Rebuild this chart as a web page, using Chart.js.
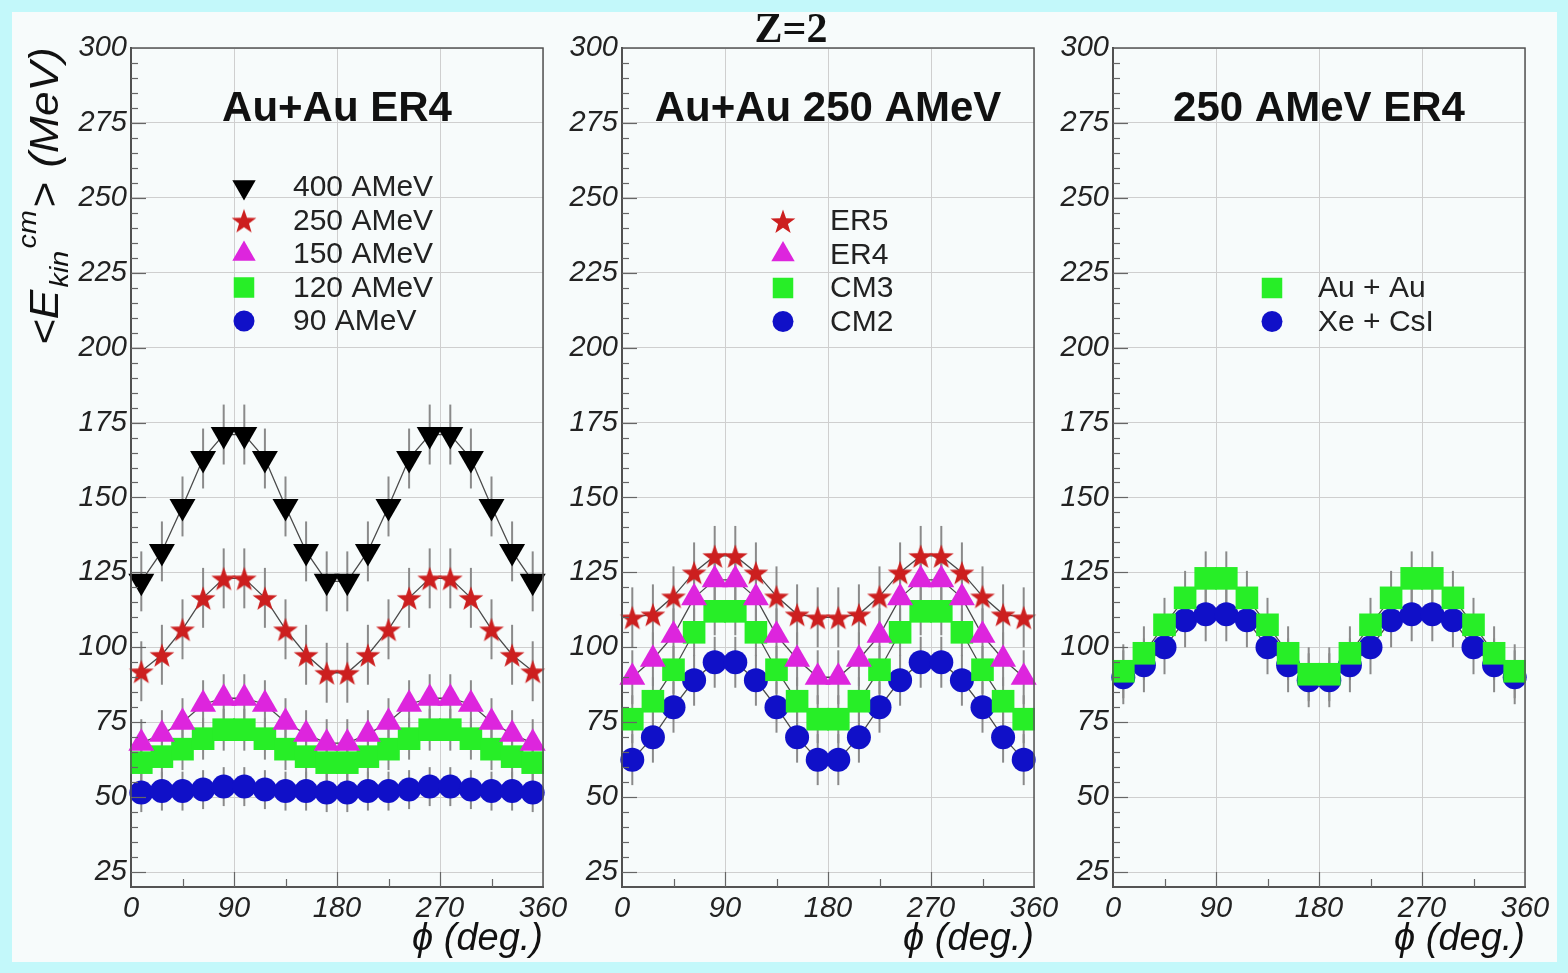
<!DOCTYPE html>
<html>
<head>
<meta charset="utf-8">
<title>Z=2</title>
<script src="https://cdn.jsdelivr.net/npm/chart.js@4.4.1/dist/chart.umd.min.js"></script>
<style>
    html, body { margin: 0; padding: 0; }
    body { width: 1568px; height: 973px; background: #c3f8fa; position: relative; overflow: hidden; }
    #sheet { position: absolute; left: 12px; top: 12px; width: 1545px; height: 950px; background: #f7fbfb; }
    canvas { position: absolute; left: 0; top: 0; }
</style>
</head>
<body>
<div id="sheet"></div>
<canvas id="panel1" width="1568" height="973"></canvas>
<canvas id="panel2" width="1568" height="973"></canvas>
<canvas id="panel3" width="1568" height="973"></canvas>
<script>
// bin centres (deg.) and axis ticks
var phi = [9, 27, 45, 63, 81, 99, 117, 135, 153, 171, 189, 207, 225, 243, 261, 279, 297, 315, 333, 351];
var xTicks = [0, 90, 180, 270, 360];
var yTicks = [25, 50, 75, 100, 125, 150, 175, 200, 225, 250, 275, 300];

// panel 1 : Au+Au ER4, beam energies
var e400 = [122, 132, 147, 163, 171, 171, 163, 147, 132, 122, 122, 132, 147, 163, 171, 171, 163, 147, 132, 122];
var e400Err = [10, 10, 10, 10, 10, 10, 10, 10, 10, 10, 10, 10, 10, 10, 10, 10, 10, 10, 10, 10];
var e250 = [92, 97.5, 106, 116.5, 123, 123, 116.5, 106, 97.5, 91.5, 91.5, 97.5, 106, 116.5, 123, 123, 116.5, 106, 97.5, 92];
var e250Err = [10, 10, 10, 10, 10, 10, 10, 10, 10, 10, 10, 10, 10, 10, 10, 10, 10, 10, 10, 10];
var e150 = [68, 71, 75, 81, 83, 83, 81, 75, 71, 68, 68, 71, 75, 81, 83, 83, 81, 75, 71, 68];
var e150Err = [8, 8, 8, 8, 8, 8, 8, 8, 8, 8, 8, 8, 8, 8, 8, 8, 8, 8, 8, 8];
var e120 = [61.5, 63.5, 66, 69.5, 72.5, 72.5, 69.5, 66, 63.5, 61.5, 61.5, 63.5, 66, 69.5, 72.5, 72.5, 69.5, 66, 63.5, 61.5];
var e120Err = [7, 7, 7, 7, 7, 7, 7, 7, 7, 7, 7, 7, 7, 7, 7, 7, 7, 7, 7, 7];
var e90 = [51.5, 52, 52, 52.5, 53.5, 53.5, 52.5, 52, 52, 51.5, 51.5, 52, 52, 52.5, 53.5, 53.5, 52.5, 52, 52, 51.5];
var e90Err = [6.5, 6.5, 6.5, 6.5, 6.5, 6.5, 6.5, 6.5, 6.5, 6.5, 6.5, 6.5, 6.5, 6.5, 6.5, 6.5, 6.5, 6.5, 6.5, 6.5];

// panel 2 : Au+Au 250 AMeV, detector setups
var er5 = [110, 111, 117, 125, 130.5, 130.5, 125, 117, 111, 110, 110, 111, 117, 125, 130.5, 130.5, 125, 117, 111, 110];
var er5Err = [10, 10, 10, 10, 10, 10, 10, 10, 10, 10, 10, 10, 10, 10, 10, 10, 10, 10, 10, 10];
var er4 = [90, 96, 104, 116.5, 122.5, 122.5, 116.5, 104, 96, 90, 90, 96, 104, 116.5, 122.5, 122.5, 116.5, 104, 96, 90];
var er4Err = [9, 9, 9, 9, 9, 9, 9, 9, 9, 9, 9, 9, 9, 9, 9, 9, 9, 9, 9, 9];
var cm3 = [76, 82, 92.5, 105, 112, 112, 105, 92.5, 82, 76, 76, 82, 92.5, 105, 112, 112, 105, 92.5, 82, 76];
var cm3Err = [8, 8, 8, 8, 8, 8, 8, 8, 8, 8, 8, 8, 8, 8, 8, 8, 8, 8, 8, 8];
var cm2 = [62.5, 70, 80, 89, 95, 95, 89, 80, 70, 62.5, 62.5, 70, 80, 89, 95, 95, 89, 80, 70, 62.5];
var cm2Err = [8.5, 8.5, 8.5, 8.5, 8.5, 8.5, 8.5, 8.5, 8.5, 8.5, 8.5, 8.5, 8.5, 8.5, 8.5, 8.5, 8.5, 8.5, 8.5, 8.5];

// panel 3 : 250 AMeV ER4, systems
var auau = [92, 98, 107.5, 116.5, 123, 123, 116.5, 107.5, 98, 91, 91, 98, 107.5, 116.5, 123, 123, 116.5, 107.5, 98, 92];
var auauErr = [9, 9, 9, 9, 9, 9, 9, 9, 9, 9, 9, 9, 9, 9, 9, 9, 9, 9, 9, 9];
var xecsi = [90, 94, 100, 109, 111, 111, 109, 100, 94, 89, 89, 94, 100, 109, 111, 111, 109, 100, 94, 90];
var xecsiErr = [9, 9, 9, 9, 9, 9, 9, 9, 9, 9, 9, 9, 9, 9, 9, 9, 9, 9, 9, 9];

var BLACK = '#000000', RED = '#cc1f1f', MAGENTA = '#dd25dd', GREEN = '#27ee27', BLUE = '#1010c8';
var FONT = '"Liberation Sans", Arial, Helvetica, sans-serif';

// filled five point star, Chart.js has no filled star
function makeStar(color, size) {
    var c = document.createElement('canvas');
    c.width = size;
    c.height = size;
    var g = c.getContext('2d');
    g.beginPath();
    for (var i = 0; i < 10; i++) {
        var r = i % 2 === 0 ? size / 2 : size / 5;
        var a = -Math.PI / 2 + i * Math.PI / 5;
        g.lineTo(size / 2 + r * Math.cos(a), size / 2 + 1.5 + r * Math.sin(a));
    }
    g.closePath();
    g.fillStyle = color;
    g.fill();
    return c;
}
var redStar = makeStar(RED, 26);

function series(label, vals, errs, color, style, radius, rotation) {
    return {
        label: label,
        data: phi.map(function(p, i) { return { x: p, y: vals[i] }; }),
        err: errs,
        pointStyle: style,
        pointRadius: radius,
        pointHoverRadius: radius,
        pointRotation: rotation || 0,
        pointBackgroundColor: color,
        pointBorderWidth: 0,
        borderColor: '#4a4a4a',
        borderWidth: 1.3,
        showLine: true,
        fill: false,
        clip: false
    };
}

function drawYTitle(ctx) {
    var parts = [
        { t: '<E', size: 40, dy: 0 },
        { t: 'kin', size: 26, dy: 10 },
        { t: 'cm', size: 26, dy: -22 },
        { t: '>', size: 40, dy: 0 },
        { t: ' (MeV)', size: 40, dy: 0 }
    ];
    ctx.save();
    var total = 0;
    parts.forEach(function(p) {
        ctx.font = 'italic ' + p.size + 'px ' + FONT;
        p.w = ctx.measureText(p.t).width + 2;
        total += p.w;
    });
    ctx.translate(58, 45);
    ctx.rotate(-Math.PI / 2);
    ctx.scale(300 / total, 1);
    ctx.fillStyle = '#111';
    ctx.textBaseline = 'alphabetic';
    var x = -total;
    parts.forEach(function(p) {
        ctx.font = 'italic ' + p.size + 'px ' + FONT;
        ctx.fillText(p.t, x, p.dy);
        x += p.w;
    });
    ctx.restore();
}

function decor(title, legend, extra) {
    return {
        id: 'decor',
        beforeDatasetsDraw: function(chart) {
            // error bars
            var ctx = chart.ctx, xs = chart.scales.x, ys = chart.scales.y;
            ctx.save();
            ctx.strokeStyle = '#8a8a8a';
            ctx.lineWidth = 2;
            chart.data.datasets.forEach(function(ds) {
                ds.data.forEach(function(pt, i) {
                    var px = xs.getPixelForValue(pt.x);
                    ctx.beginPath();
                    ctx.moveTo(px, ys.getPixelForValue(pt.y + ds.err[i]));
                    ctx.lineTo(px, ys.getPixelForValue(pt.y - ds.err[i]));
                    ctx.stroke();
                });
            });
            ctx.restore();
        },
        afterDatasetsDraw: function(chart) {
            var ctx = chart.ctx, a = chart.chartArea, xs = chart.scales.x, ys = chart.scales.y;
            ctx.save();
            // frame
            ctx.strokeStyle = '#555';
            ctx.lineWidth = 1.5;
            ctx.strokeRect(a.left, a.top, a.right - a.left, a.bottom - a.top);
            // inner tick marks
            ctx.strokeStyle = '#666';
            ctx.lineWidth = 1.2;
            for (var v = 25; v < 300; v += 5) {
                var py = Math.round(ys.getPixelForValue(v)) + 0.5;
                var len = v % 25 === 0 ? 15 : 7;
                ctx.beginPath();
                ctx.moveTo(a.left, py);
                ctx.lineTo(a.left + len, py);
                ctx.stroke();
            }
            for (var p = 45; p < 360; p += 45) {
                var px = Math.round(xs.getPixelForValue(p)) + 0.5;
                var l2 = p % 90 === 0 ? 15 : 8;
                ctx.beginPath();
                ctx.moveTo(px, a.bottom);
                ctx.lineTo(px, a.bottom - l2);
                ctx.stroke();
            }
            // panel title
            ctx.fillStyle = '#111';
            ctx.font = 'bold 42px ' + FONT;
            ctx.textAlign = 'center';
            ctx.textBaseline = 'middle';
            ctx.fillText(title, (a.left + a.right) / 2, a.top + 61);
            // legend
            ctx.font = '30px ' + FONT;
            ctx.textAlign = 'left';
            legend.rows.forEach(function(idx, r) {
                var ds = chart.data.datasets[idx];
                var y = a.top + legend.top + r * 33.5;
                ctx.fillStyle = ds.pointBackgroundColor;
                Chart.helpers.drawPoint(ctx, {
                    pointStyle: ds.pointStyle,
                    radius: ds.pointRadius - 1.5,
                    rotation: ds.pointRotation,
                    borderWidth: 0
                }, a.left + legend.mx, y);
                ctx.fillStyle = '#222';
                ctx.fillText(ds.label, a.left + legend.tx, y + 1);
            });
            if (extra) extra(ctx, a);
            ctx.restore();
        }
    };
}

function makePanel(id, left, right, datasets, title, legend, extra) {
    var tickFont = { family: FONT, size: 29, style: 'italic' };
    return new Chart(document.getElementById(id).getContext('2d'), {
        type: 'line',
        data: { datasets: datasets },
        options: {
            responsive: false,
            animation: false,
            devicePixelRatio: 1,
            layout: { padding: { left: left - 80, right: 1568 - right, top: 48, bottom: 11 } },
            plugins: {
                legend: { display: false },
                tooltip: { enabled: false },
                title: { display: false }
            },
            scales: {
                x: {
                    type: 'linear',
                    min: 0,
                    max: 360,
                    afterBuildTicks: function(s) { s.ticks = xTicks.map(function(v) { return { value: v }; }); },
                    afterFit: function(s) { s.height = 75; },
                    grid: { color: '#cfcfcf', lineWidth: 1, drawTicks: false },
                    border: { color: '#555', width: 2 },
                    ticks: { color: '#222', padding: 5, maxRotation: 0, autoSkip: false, font: tickFont,
                        callback: function(v) { return String(v); } },
                    title: { display: true, text: 'ϕ (deg.)', align: 'end', color: '#111', padding: 0,
                        font: { family: FONT, size: 38, style: 'italic' } }
                },
                y: {
                    type: 'linear',
                    min: 20,
                    max: 300,
                    afterBuildTicks: function(s) { s.ticks = yTicks.map(function(v) { return { value: v }; }); },
                    afterFit: function(s) { s.width = 80; },
                    grid: { color: '#cfcfcf', lineWidth: 1, drawTicks: false },
                    border: { color: '#444', width: 2 },
                    ticks: { color: '#222', padding: 4, autoSkip: false, font: tickFont,
                        callback: function(v) { return String(v); } }
                }
            }
        },
        plugins: [decor(title, legend, extra)]
    });
}

makePanel('panel1', 131, 543, [
    series('400 AMeV', e400, e400Err, BLACK, 'triangle', 15, 180),
    series('250 AMeV', e250, e250Err, RED, redStar, 13),
    series('150 AMeV', e150, e150Err, MAGENTA, 'triangle', 15),
    series('120 AMeV', e120, e120Err, GREEN, 'rect', 16),
    series('90 AMeV', e90, e90Err, BLUE, 'circle', 12)
], 'Au+Au ER4', { rows: [0, 1, 2, 3, 4], top: 139, mx: 113, tx: 162 }, function(ctx) {
    drawYTitle(ctx);
});

makePanel('panel2', 622, 1034, [
    series('ER5', er5, er5Err, RED, redStar, 13),
    series('ER4', er4, er4Err, MAGENTA, 'triangle', 15),
    series('CM3', cm3, cm3Err, GREEN, 'rect', 16),
    series('CM2', cm2, cm2Err, BLUE, 'circle', 12)
], 'Au+Au 250 AMeV', { rows: [0, 1, 2, 3], top: 173, mx: 161, tx: 208 }, function(ctx) {
    ctx.fillStyle = '#111';
    ctx.font = 'bold 42px "Liberation Serif", "Times New Roman", serif';
    ctx.textAlign = 'center';
    ctx.textBaseline = 'middle';
    ctx.fillText('Z=2', 791, 31);
});

makePanel('panel3', 1113, 1525, [
    series('Au + Au', auau, auauErr, GREEN, 'rect', 16),
    series('Xe + CsI', xecsi, xecsiErr, BLUE, 'circle', 12)
], '250 AMeV ER4', { rows: [0, 1], top: 240, mx: 159, tx: 205 });
</script>
</body>
</html>
